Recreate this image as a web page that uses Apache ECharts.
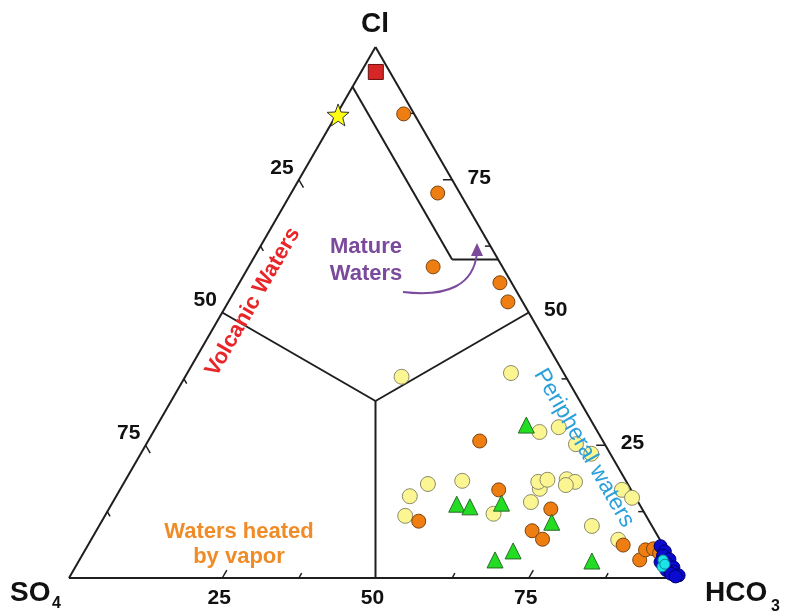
<!DOCTYPE html>
<html><head><meta charset="utf-8">
<script src="https://cdn.jsdelivr.net/npm/echarts@6/dist/echarts.min.js"></script>
<style>html,body{margin:0;padding:0;background:#fff}#c{width:788px;height:616px}</style>
</head><body><div id="c"></div>
<script>
// Ternary samples: [Cl, SO4, HCO3] (%)
const orangePts = [
  [87.4,1.7,10.9],[72.5,3.6,23.9],[58.6,11.3,30.1],[55.6,1.9,42.5],[52.0,2.4,45.6],
  [25.8,20.1,54.1],[16.6,21.6,61.8],[10.7,37.6,51.7],[13.0,14.9,72.1],[8.9,20.0,71.1],
  [7.3,19.1,73.6],[6.2,6.5,87.3],[3.4,5.2,91.4],[5.3,3.3,91.4],[5.5,1.9,92.6],[4.7,1.3,94.0]
];
const yellowPts = [
  [37.9,26.8,35.3],[38.6,8.6,52.8],[27.5,9.5,63.0],[28.4,5.9,65.7],[25.2,4.7,70.1],
  [23.4,3.1,73.5],[17.7,32.6,49.7],[18.3,26.7,55.0],[15.4,36.7,47.9],[11.7,39.3,49.0],
  [12.1,24.7,63.2],[14.3,17.5,68.2],[16.8,14.8,68.4],[18.1,14.4,67.5],[18.5,12.7,68.8],
  [18.6,9.5,71.9],[18.1,8.4,73.5],[17.5,10.2,72.3],[16.6,1.5,81.9],[15.1,0.6,84.3],
  [9.8,9.8,80.4],[7.2,6.8,86.0]
];
const greenPts = [
  [28.8,11.0,60.2],[13.9,29.8,56.3],[13.4,27.9,58.7],[14.1,22.4,63.5],[10.5,16.0,73.5],
  [3.4,28.8,67.8],[5.1,25.0,69.9],[3.2,13.1,83.7]
];
const redPts = [[95.3,2.3,2.4]];
const starPts = [[87.2,12.5,0.3]];
const bluePts = [
  [6.0,0.5,93.5],[5.0,0.3,94.7],[4.2,1.0,94.8],[3.5,0.3,96.2],[2.8,1.2,96.0],
  [2.0,0.4,97.6],[1.2,0.8,98.0],[0.5,0.3,99.2],[1.5,1.8,96.7],[3.0,2.0,95.0],
  [0.8,1.4,97.8],[0.3,0.9,98.8]
];
const cyanPts = [[3.4,1.4,95.2],[2.1,2.2,95.7],[2.6,1.5,95.9]];

// Boundaries in ternary [Cl, SO4, HCO3]
const outline = [[100,0,0],[0,100,0],[0,0,100],[100,0,0]];
const matureLine = [[92.5,7.5,0],[60,7.5,32.5],[60,0,40]];
const centre = [33.333,33.333,33.334];
const midLeft = [50,50,0], midRight = [50,0,50], midBottom = [0,50,50];

const tickVals = [12.5,25,37.5,50,62.5,75,87.5];
const majorVals = [25,50,75];
const tickLabels = ['25','50','75'];

const H = Math.sqrt(3)/2;
function xy(p){ return [p[2] + p[0]/2, p[0]*H]; }

// build line segments
const segs = [];
function addPoly(pts){ for(let i=0;i<pts.length-1;i++){ const a=xy(pts[i]), b=xy(pts[i+1]); segs.push([a[0],a[1],b[0],b[1],2]); } }
addPoly(outline); addPoly(matureLine);
addPoly([centre, midLeft]); addPoly([centre, midRight]); addPoly([centre, midBottom]);
tickVals.forEach(v=>{
  const L = majorVals.includes(v) ? 1.5 : 0.9;
  if (v !== 50 && v !== 12.5) { const a=xy([0,100-v,v]), b=xy([L,100-v-L,v]); segs.push([a[0],a[1],b[0],b[1],1.5]); }
  if (v !== 50) { const a=xy([100-v,v,0]), b=xy([100-v-L,v,L]); segs.push([a[0],a[1],b[0],b[1],1.5]); }
  if (v !== 50) { const a=xy([v,0,100-v]), b=xy([v,L,100-v-L]); segs.push([a[0],a[1],b[0],b[1],1.5]); }
});

function starPath(){
  let d='path://';
  for(let i=0;i<10;i++){
    const r = i%2===0 ? 10 : 4.2;
    const a = -Math.PI/2 + i*Math.PI/5;
    d += (i===0?'M':'L') + (10+r*Math.cos(a)).toFixed(2) + ',' + (10+r*Math.sin(a)).toFixed(2);
  }
  return d+'Z';
}

const chart = echarts.init(document.getElementById('c'));
function sc(name, pts, symbol, size, fill, border){
  return {name, type:'scatter', data: pts.map(xy), symbol, symbolSize:size,
    itemStyle:{color:fill, borderColor:border, borderWidth:1, opacity:1}, z:3, animation:false};
}
chart.setOption({
  animation:false,
  grid:{left:69, top:47, width:613, height:531},
  xAxis:{type:'value', min:0, max:100, show:false},
  yAxis:{type:'value', min:0, max:100*H, show:false},
  series:[
    {type:'custom', data:segs, z:2, renderItem:function(params, api){
      const a = api.coord([api.value(0), api.value(1)]);
      const b = api.coord([api.value(2), api.value(3)]);
      return {type:'line', shape:{x1:a[0],y1:a[1],x2:b[0],y2:b[1]}, style:{stroke:'#1e1e1e', lineWidth:api.value(4), lineCap:'butt'}};
    }},
    sc('yellow', yellowPts, 'circle', 15, '#FBF592', '#8a8a6a'),
    sc('orange', orangePts, 'circle', 14, '#EF7E12', '#7a4210'),
    sc('green', greenPts, 'triangle', 16, '#22DD22', '#2a6a2a'),
    sc('red', redPts, 'rect', 15, '#D62626', '#6a1010'),
    sc('star', starPts, starPath(), 22, '#FFFF10', '#333'),
    sc('blue', bluePts, 'circle', 13, '#0A0AD0', '#000070'),
    sc('cyan', cyanPts, 'circle', 10, '#1BE3EA', '#0a8a90')
  ]
});

function px(p){ return chart.convertToPixel({gridIndex:0}, xy(p)); }
const g = [];
function txt(x,y,text,o){
  o = o||{};
  g.push({type:'text', x, y, rotation:o.rot||0, z:100,
    style:{text, x:0, y:0, fill:o.color||'#111', fontFamily:'Liberation Sans, Arial, sans-serif',
      fontSize:o.size||21, fontWeight:o.weight||'bold', align:o.align||'center', verticalAlign:'middle',
      textAlign:o.align||'center', textVerticalAlign:'middle', lineHeight:o.lh}});
}
majorVals.forEach((v,i)=>{
  const b = px([0,100-v,v]); txt(b[0]-3, b[1]+20, tickLabels[i]);
  const l = px([100-v,v,0]); txt(l[0]-17, l[1]-12, tickLabels[i]);
  const r = px([v,0,100-v]); txt(r[0]+27, r[1]-2, tickLabels[i]);
});
txt(375, 24, 'Cl', {size:28});
txt(10, 593, 'SO', {size:28, align:'left'});
txt(52, 604, '4', {size:16, align:'left'});
txt(705, 593, 'HCO', {size:28, align:'left'});
txt(771, 607, '3', {size:16, align:'left'});
txt(253, 302, 'Volcanic Waters', {color:'#E8262A', size:22, rot:Math.PI/3});
txt(366, 260, 'Mature\nWaters', {color:'#7B4A9B', size:22, lh:27});
txt(584, 448, 'Peripheral waters', {color:'#2B9FDA', size:23, weight:'normal', rot:-Math.PI/3});
txt(239, 544, 'Waters heated\nby vapor', {color:'#F08C28', size:22, lh:25});
g.push({type:'bezierCurve', z:100, shape:{x1:403,y1:292,x2:477,y2:253,cpx1:472,cpy1:300},
  style:{stroke:'#7B4A9B', lineWidth:2, fill:null}});
g.push({type:'polygon', z:100, shape:{points:[[477,243],[471,256],[483,256]]}, style:{fill:'#7B4A9B'}});
chart.setOption({graphic:{elements:g}});
</script></body></html>
